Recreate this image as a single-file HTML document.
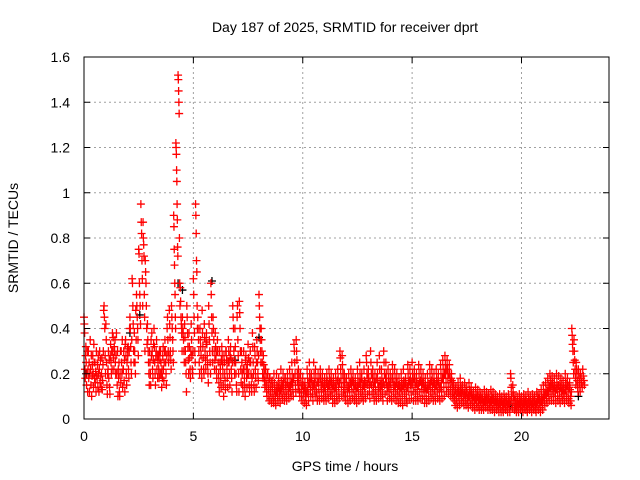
<!DOCTYPE html>
<html><head><meta charset="utf-8"><style>
html,body{margin:0;padding:0;background:#fff;}
svg{display:block;font-family:"Liberation Sans",sans-serif;}
</style></head><body>
<svg id="chart" width="640" height="480" viewBox="0 0 640 480" xmlns="http://www.w3.org/2000/svg">
<rect width="640" height="480" fill="#fff"/>
<text x="345" y="32" font-size="14" text-anchor="middle" fill="#000">Day 187 of 2025, SRMTID for receiver dprt</text>
<text x="345" y="471" font-size="14" text-anchor="middle" fill="#000">GPS time / hours</text>
<text transform="translate(18,238) rotate(-90)" font-size="14" text-anchor="middle" fill="#000">SRMTID / TECUs</text>
<g id="grid"></g>
<g id="marks"></g>
<g id="axes"></g>
</svg>
<script>
const xTicks = [0, 5, 10, 15, 20];
const yTicks = [0, 0.2, 0.4, 0.6, 0.8, 1, 1.2, 1.4, 1.6];
const yTickLabels = ["0", "0.2", "0.4", "0.6", "0.8", "1", "1.2", "1.4", "1.6"];
const binHours = [];
for (let i = 0; i <= 228; i++) binHours.push(Math.round(i) / 10);
const binValues = [
[.45,.42,.38,.22,.18,.28,.32],[.25,.15,.2,.3,.12,.22],[.3,.18,.25,.12,.2,.35],[.22,.15,.28,.1,.19,.24],[.28,.2,.14,.33,.25,.18],
[.25,.16,.21,.12,.3,.19],[.18,.24,.14,.28,.2,.12],[.22,.3,.16,.26,.19,.14],[.2,.27,.13,.17,.24,.3],[.48,.5,.45,.4,.28,.2],
[.42,.35,.25,.15,.11,.2],[.22,.3,.18,.26,.14,.11],[.28,.33,.25,.2,.3,.22],[.38,.3,.36,.27,.22,.32],[.3,.35,.25,.2,.28,.38],
[.2,.15,.3,.1,.22,.18],[.25,.12,.1,.2,.3,.16],[.3,.25,.2,.35,.14,.22],[.22,.3,.17,.26,.12,.33],[.35,.28,.2,.15,.25,.31],
[.28,.32,.22,.18,.3,.4],[.45,.4,.32,.25,.2,.35],[.62,.6,.5,.42,.3,.25],[.38,.3,.25,.2,.48,.35],[.55,.5,.45,.4,.35,.28],
[.75,.73,.6,.55,.5,.42],[.95,.87,.82,.7,.62,.5],[.87,.8,.77,.72,.55,.45,.3],[.7,.65,.6,.5,.4,.33],[.42,.35,.3,.25,.2,.15],
[.3,.25,.2,.15,.35,.28],[.38,.3,.22,.18,.26,.33],[.4,.32,.25,.2,.15,.28],[.3,.35,.22,.28,.18,.25],[.28,.22,.18,.3,.26,.2],
[.3,.25,.2,.14,.22,.18],[.28,.32,.22,.17,.25,.3],[.35,.3,.25,.2,.15,.28],[.4,.45,.35,.3,.25,.28],[.48,.42,.36,.3,.26,.22],
[.5,.45,.4,.35,.3,.25],[.9,.85,.75,.68,.6,.55,.45,.4],[1.22,1.2,1.17,1.1,1.05,.95,.88,.76,.72],[1.52,1.5,1.45,1.4,1.35,.8,.6,.5],[.58,.52,.45,.42,.38,.3],
[.45,.4,.38,.35,.3,.25],[.42,.36,.3,.25,.2,.12],[.5,.45,.38,.32,.26,.2],[.38,.32,.27,.22,.18,.3],[.42,.35,.28,.22,.2,.3],
[.62,.55,.45,.38,.3,.25],[.95,.9,.82,.7,.65,.5,.4],[.45,.4,.35,.3,.25,.2],[.4,.35,.32,.28,.22,.18],[.48,.38,.32,.27,.22,.2],
[.42,.36,.3,.26,.22,.34],[.38,.33,.28,.24,.2,.16],[.5,.42,.35,.3,.25,.2],[.6,.55,.45,.38,.3,.25],[.45,.4,.35,.3,.22,.26],
[.38,.32,.28,.22,.18,.3],[.35,.3,.25,.2,.16,.12],[.3,.25,.22,.18,.14,.26],[.32,.28,.24,.2,.15,.1],[.28,.25,.2,.17,.13,.3],
[.3,.26,.22,.18,.14,.25],[.35,.3,.25,.2,.15,.28],[.32,.27,.22,.18,.12,.25],[.5,.45,.4,.3,.25,.2],[.4,.32,.25,.2,.15,.12],
[.45,.5,.35,.28,.2,.12],[.52,.47,.4,.3,.22,.16],[.3,.25,.2,.15,.12,.22],[.3,.22,.18,.14,.1,.26],[.28,.22,.18,.14,.24,.2],
[.33,.27,.2,.15,.12,.25],[.3,.25,.2,.15,.12,.18],[.38,.32,.25,.2,.15,.12],[.32,.28,.22,.18,.14,.25],[.35,.3,.25,.2,.17,.28],
[.55,.5,.45,.4,.35,.3,.25],[.4,.35,.3,.25,.2,.18],[.28,.24,.2,.17,.14,.22],[.22,.18,.15,.12,.1,.2],[.2,.16,.13,.1,.08,.18],
[.18,.14,.12,.09,.07,.16],[.17,.14,.11,.09,.07,.2],[.16,.13,.1,.08,.06,.12],[.2,.15,.12,.1,.08,.14],[.18,.15,.12,.1,.07,.13],
[.22,.17,.14,.11,.09,.15],[.2,.16,.13,.1,.08,.18],[.18,.15,.12,.1,.08,.16],[.2,.16,.13,.11,.09,.14],[.22,.18,.15,.12,.1,.16],
[.25,.2,.16,.13,.1,.18],[.33,.3,.25,.2,.15,.12],[.35,.3,.26,.2,.17,.13],[.22,.18,.15,.12,.1,.2],[.2,.16,.13,.1,.08,.15],
[.18,.15,.12,.1,.07,.14],[.16,.13,.1,.08,.06,.12],[.22,.18,.14,.11,.08,.16],[.25,.2,.16,.13,.1,.18],[.2,.17,.14,.11,.08,.15],
[.25,.2,.16,.13,.1,.22],[.18,.15,.12,.1,.08,.16],[.2,.16,.13,.1,.08,.18],[.22,.18,.15,.12,.09,.16],[.2,.16,.13,.1,.08,.14],
[.18,.15,.12,.1,.08,.16],[.2,.17,.14,.11,.09,.15],[.22,.18,.15,.12,.1,.17],[.2,.16,.13,.1,.07,.15],[.18,.15,.12,.09,.07,.14],
[.2,.16,.13,.1,.08,.17],[.22,.18,.14,.11,.09,.16],[.3,.27,.22,.18,.14,.1],[.28,.24,.2,.16,.12,.1],[.2,.16,.13,.1,.08,.18],
[.18,.15,.12,.1,.07,.14],[.2,.16,.13,.1,.08,.16],[.22,.18,.15,.12,.09,.17],[.2,.16,.13,.1,.08,.15],[.18,.15,.12,.09,.07,.14],
[.22,.18,.14,.11,.08,.16],[.25,.2,.16,.12,.09,.18],[.2,.16,.13,.1,.08,.15],[.22,.17,.14,.11,.09,.16],[.28,.25,.2,.15,.11,.18],
[.22,.18,.15,.12,.09,.16],[.3,.25,.2,.15,.11,.18],[.22,.18,.14,.11,.08,.16],[.2,.16,.13,.1,.08,.18],[.25,.2,.16,.12,.09,.14],
[.28,.22,.17,.13,.1,.15],[.22,.18,.14,.11,.08,.16],[.3,.25,.2,.15,.11,.18],[.25,.2,.16,.12,.08,.14],[.22,.18,.15,.12,.09,.16],
[.2,.16,.13,.1,.08,.18],[.24,.2,.16,.12,.09,.15],[.22,.18,.14,.11,.08,.16],[.2,.16,.13,.1,.07,.15],[.18,.15,.12,.09,.07,.14],
[.2,.16,.13,.1,.06,.15],[.22,.17,.14,.11,.08,.16],[.18,.15,.12,.09,.07,.14],[.24,.2,.16,.12,.09,.17],[.22,.18,.15,.12,.09,.16],
[.25,.2,.16,.12,.08,.18],[.22,.18,.14,.11,.08,.16],[.2,.16,.13,.1,.08,.15],[.24,.2,.16,.12,.09,.17],[.22,.18,.15,.12,.09,.16],
[.2,.16,.13,.1,.07,.14],[.18,.15,.12,.09,.07,.13],[.2,.16,.13,.1,.08,.15],[.24,.2,.16,.12,.09,.17],[.22,.18,.14,.11,.08,.16],
[.2,.16,.13,.1,.08,.15],[.22,.18,.15,.12,.09,.17],[.2,.16,.13,.1,.08,.14],[.24,.2,.16,.12,.09,.18],[.26,.22,.18,.14,.1,.2],
[.28,.24,.2,.16,.12,.22],[.26,.22,.18,.14,.11,.2],[.24,.2,.16,.13,.1,.18],[.2,.17,.14,.11,.09,.16],[.15,.12,.1,.08,.06,.13],
[.14,.11,.09,.07,.05,.12],[.16,.13,.1,.08,.06,.12],[.18,.14,.11,.09,.07,.13],[.15,.12,.1,.08,.06,.11],[.16,.13,.1,.08,.06,.12],
[.14,.11,.09,.07,.05,.1],[.16,.13,.1,.08,.06,.12],[.14,.11,.09,.07,.05,.1],[.12,.1,.08,.06,.04,.09],[.14,.11,.09,.07,.05,.1],
[.13,.1,.08,.06,.04,.09],[.12,.1,.08,.06,.04,.09],[.11,.09,.07,.05,.04,.08],[.13,.1,.08,.06,.05,.09],[.12,.1,.08,.06,.04,.09],
[.11,.09,.07,.05,.04,.08],[.13,.1,.08,.06,.04,.09],[.12,.09,.07,.05,.03,.08],[.11,.09,.07,.05,.04,.08],[.1,.08,.06,.05,.03,.07],
[.11,.09,.07,.05,.03,.08],[.1,.08,.06,.04,.03,.07],[.11,.09,.07,.05,.04,.08],[.1,.08,.06,.04,.03,.07],[.11,.09,.07,.05,.03,.08],
[.2,.18,.14,.1,.07,.05],[.15,.12,.1,.08,.05,.04],[.1,.08,.06,.05,.03,.07],[.1,.08,.06,.04,.03,.07],[.11,.09,.07,.05,.04,.08],
[.1,.08,.06,.05,.03,.07],[.11,.09,.07,.05,.04,.08],[.1,.08,.06,.04,.03,.07],[.12,.09,.07,.05,.04,.08],[.1,.08,.06,.05,.03,.07],
[.11,.09,.07,.05,.04,.08],[.1,.08,.06,.04,.03,.07],[.12,.1,.08,.06,.04,.09],[.11,.09,.07,.05,.03,.08],[.13,.1,.08,.06,.04,.09],
[.15,.12,.1,.08,.06,.11],[.16,.13,.11,.09,.07,.12],[.18,.15,.12,.1,.08,.14],[.2,.17,.14,.11,.08,.15],[.19,.16,.13,.1,.08,.14],
[.18,.15,.12,.1,.07,.13],[.2,.16,.13,.1,.08,.15],[.19,.15,.12,.09,.07,.14],[.18,.15,.12,.1,.08,.13],[.17,.14,.11,.09,.07,.13],
[.2,.16,.13,.1,.08,.15],[.18,.15,.12,.09,.07,.14],[.16,.13,.1,.08,.06,.12],[.4,.37,.33,.3,.25,.2],[.35,.3,.26,.22,.18,.15],
[.25,.22,.2,.17,.14,.12],[.22,.2,.18,.16,.14,.12],[.2,.18,.16,.14],[.22,.19,.17,.15]
];
const blackHours = [0.1, 2.1, 2.55, 4.3, 4.5, 5.85, 6.9, 8.0, 19.5, 22.6];
const blackValues = [0.2, 0.38, 0.46, 0.6, 0.57, 0.61, 0.26, 0.36, 0.06, 0.1];

const L = 84, R = 609, T = 57, B = 419;
const X_MAX = 24, Y_MAX = 1.6;
function xs(h) { return L + (h / X_MAX) * (R - L); }
function ys(v) { return B - (v / Y_MAX) * (B - T); }
const NS = "http://www.w3.org/2000/svg";
function mk(tag, attrs, parent) {
  const e = document.createElementNS(NS, tag);
  for (const k in attrs) e.setAttribute(k, attrs[k]);
  parent.appendChild(e);
  return e;
}
const grid = document.getElementById('grid');
const axes = document.getElementById('axes');
const marks = document.getElementById('marks');

xTicks.forEach(t => {
  const x = xs(t);
  if (t > 0) {
    const g = mk('line', {x1: x, x2: x, y1: T, y2: B, stroke: '#a0a0a0', 'stroke-dasharray': '2,3', 'stroke-width': 1}, grid);
    
    
  }
  const tb = mk('line', {x1: x, x2: x, y1: B, y2: B - 6, stroke: '#000'}, axes);
  
  
  const tt = mk('line', {x1: x, x2: x, y1: T, y2: T + 6, stroke: '#000'}, axes);
  
  
  const lab = mk('text', {x: x, y: B + 22, 'font-size': 14, 'text-anchor': 'middle', fill: '#000'}, axes);
  lab.textContent = String(t);
  
  
});
yTicks.forEach((t, i) => {
  const y = ys(t);
  if (t > 0 && t < Y_MAX) {
    const g = mk('line', {x1: L, x2: R, y1: y, y2: y, stroke: '#a0a0a0', 'stroke-dasharray': '2,3', 'stroke-width': 1}, grid);
    
    
  }
  const tl = mk('line', {x1: L, x2: L + 6, y1: y, y2: y, stroke: '#000'}, axes);
  
  
  const tr = mk('line', {x1: R, x2: R - 6, y1: y, y2: y, stroke: '#000'}, axes);
  
  
  const lab = mk('text', {x: L - 14, y: y + 5, 'font-size': 14, 'text-anchor': 'end', fill: '#000'}, axes);
  lab.textContent = yTickLabels[i];
  
  
});
const frame = mk('rect', {x: L, y: T, width: R - L, height: B - T, fill: 'none', stroke: '#000', 'stroke-width': 1}, axes);



function cross(h, v, color, name) {
  const x = xs(h), y = ys(v);
  const p = mk('path', {d: `M${x - 4},${y}H${x + 4}M${x},${y - 4}V${y + 4}`, stroke: color, 'stroke-width': 1.3, fill: 'none'}, marks);
  
  
}
blackHours.forEach((h, i) => cross(h, blackValues[i], '#000', 'black-point'));
binValues.forEach((vals, i) => {
  const n = vals.length;
  vals.forEach((v, j) => {
    cross(binHours[i] + (j / n) * 0.1, v, '#ff0000', 'srmtid-point');
  });
});
</script>
</body></html>
